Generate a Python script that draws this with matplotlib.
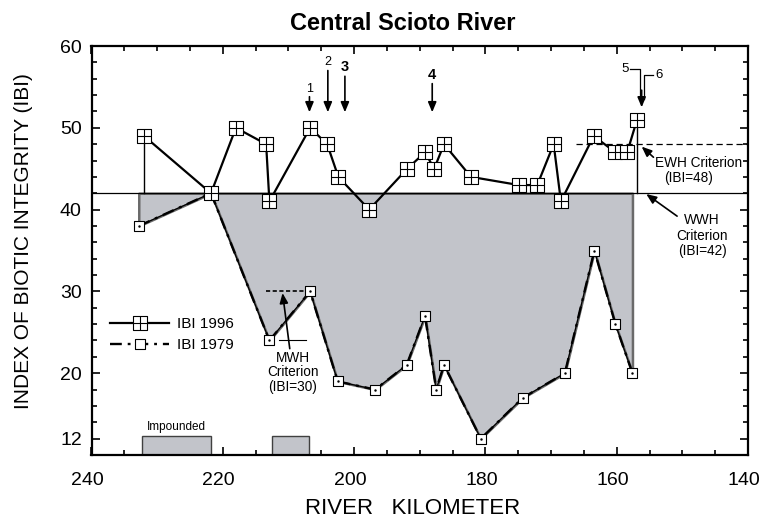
import matplotlib
matplotlib.use("Agg")
import matplotlib.pyplot as plt
import matplotlib.transforms as mtransforms
from matplotlib.path import Path
from matplotlib.ticker import MultipleLocator, FixedLocator

plt.rcParams['font.family'] = ['Liberation Sans', 'DejaVu Sans']

# River kilometer and IBI scores for each survey year
km_1996 = [232.0, 221.8, 218.0, 213.4, 212.9, 206.7, 204.1, 202.4, 197.7, 191.9, 189.2,
           187.8, 186.3, 182.2, 174.9, 172.1, 169.6, 168.5, 163.5, 160.2, 158.4, 156.9]
ibi_1996 = [49, 42, 50, 48, 41, 50, 48, 44, 40, 45, 47,
            45, 48, 44, 43, 43, 48, 41, 49, 47, 47, 51]

km_1979 = [232.8, 221.8, 212.9, 206.7, 202.5, 196.8, 192.0, 189.2, 187.5, 186.3, 180.7,
           174.3, 167.9, 163.4, 160.2, 157.6]
ibi_1979 = [38, 42, 24, 30, 19, 18, 21, 27, 18, 21, 12,
            17, 20, 35, 26, 20]

# Aquatic life use criteria
wwh_ibi = 42
ewh_ibi = 48
mwh_ibi = 30

# Impounded reaches (upstream km, downstream km)
impounded = [(232.3, 221.8), (212.5, 206.8)]

# Numbered point-source locations
sites = ["1", "2", "3", "4"]
site_km = [206.8, 204.0, 201.4, 188.1]

x_ticks = [240, 220, 200, 180, 160, 140]
y_ticks = [12, 20, 30, 40, 50, 60]

fig = plt.figure(figsize=(7.61, 5.27), dpi=100)
ax = fig.add_axes([91.5 / 761, 1 - 455 / 527, (748 - 91.5) / 761, (455 - 46) / 527])
ax.set_xlim(240, 140)
ax.set_ylim(10, 60)

# Markers: square with cross, and plain square with a centre dot
cross_sq = Path([(-1, -1), (1, -1), (1, 1), (-1, 1), (-1, -1), (0, -1), (0, 1), (-1, 0), (1, 0)],
                [Path.MOVETO, Path.LINETO, Path.LINETO, Path.LINETO, Path.CLOSEPOLY,
                 Path.MOVETO, Path.LINETO, Path.MOVETO, Path.LINETO])
plain_sq = Path([(-1, -1), (1, -1), (1, 1), (-1, 1), (-1, -1)],
                [Path.MOVETO, Path.LINETO, Path.LINETO, Path.LINETO, Path.CLOSEPOLY])

# Shaded departure of 1979 scores below the WWH criterion
ax.fill_between(km_1979, ibi_1979, wwh_ibi, facecolor='#c2c4ca', edgecolor='#6a6a6a',
                linewidth=1.8, zorder=1)
ax.axhline(wwh_ibi, color='black', linewidth=0.9, zorder=2)

# 1996 closing drops to the WWH line
ax.plot([km_1996[0], km_1996[0]], [wwh_ibi, ibi_1996[0]], color='black', lw=1.0, zorder=2)
ax.plot([km_1996[-1], km_1996[-1]], [wwh_ibi, ibi_1996[-1]], color='black', lw=1.0, zorder=2)

# 1979 series
ax.plot(km_1979, ibi_1979, color='black', lw=0.9, zorder=3)
l79, = ax.plot(km_1979, ibi_1979, color='black', lw=1.7, linestyle=(0, (5, 2.5, 1.2, 2.5)),
               marker=plain_sq, markersize=7.8, markerfacecolor='white',
               markeredgecolor='black', markeredgewidth=0.8, zorder=4, label='IBI 1979')
ax.plot(km_1979, ibi_1979, linestyle='none', marker='.', markersize=1.5, color='black', zorder=5)

# 1996 series
l96, = ax.plot(km_1996, ibi_1996, color='black', lw=1.6, marker=cross_sq, markersize=10,
               markerfacecolor='white', markeredgecolor='black', markeredgewidth=0.8,
               zorder=6, label='IBI 1996')

# Impounded reaches along the bottom
for up, down in impounded:
    ax.bar((up + down) / 2, 12.3 - 10, width=up - down, bottom=10, color='#c2c4ca',
           edgecolor='#404040', linewidth=1.0, zorder=2)
ax.text(227.0, 12.7, "Impounded", ha='center', va='bottom', fontsize=8.5)

# Criterion references
ax.plot([166.2, 140], [ewh_ibi, ewh_ibi], color='black', lw=0.9, linestyle=(0, (5, 3)), zorder=2)
ax.plot([213.4, 207.3], [mwh_ibi, mwh_ibi], color='black', lw=1.2, linestyle=(0, (2.5, 1.5)), zorder=2)
ax.plot([211.4, 207.4], [24.1, 24.1], color='black', lw=0.8, zorder=2)

arrow_kw = dict(arrowstyle='-|>,head_length=0.6,head_width=0.25', color='black', lw=1.2,
                shrinkA=0, shrinkB=0)

ax.annotate("", xy=(156.2, 47.7), xytext=(154.4, 46.4), arrowprops=arrow_kw, zorder=7)
ax.text(147.6, 45.7, "EWH Criterion", ha='center', va='center', fontsize=9.8)
ax.text(149.0, 43.9, "(IBI=48)", ha='center', va='center', fontsize=9.8)

ax.annotate("", xy=(155.5, 41.9), xytext=(150.8, 39.2), arrowprops=arrow_kw, zorder=7)
ax.text(147.0, 38.7, "WWH", ha='center', va='center', fontsize=9.8)
ax.text(147.0, 36.8, "Criterion", ha='center', va='center', fontsize=9.8)
ax.text(147.0, 34.9, "(IBI=42)", ha='center', va='center', fontsize=9.8)

ax.annotate("", xy=(210.9, 29.8), xytext=(209.8, 23.0), arrowprops=arrow_kw, zorder=7)
ax.text(209.3, 21.9, "MWH", ha='center', va='center', fontsize=9.8)
ax.text(209.3, 20.1, "Criterion", ha='center', va='center', fontsize=9.8)
ax.text(209.3, 18.3, "(IBI=30)", ha='center', va='center', fontsize=9.8)

# Numbered sites
site_top = [53.8, 57.0, 56.3, 55.4]
site_lbl = [54.7, 58.0, 57.4, 56.5]
bold = [False, False, True, True]
for s, x, yt, yl, b in zip(sites, site_km, site_top, site_lbl, bold):
    ax.annotate("", xy=(x, 51.9), xytext=(x, yt), arrowprops=arrow_kw, zorder=7)
    ax.text(x, yl, s, ha='center', va='center',
            fontsize=10.5 if b else 9, fontweight='bold' if b else 'normal')

# Sites 5 and 6 share one arrow
ax.text(158.7, 57.2, "5", ha='center', va='center', fontsize=9.5)
ax.text(153.6, 56.5, "6", ha='center', va='center', fontsize=9.5)
ax.plot([157.9, 156.5, 156.5], [57.2, 57.2, 53.5], color='black', lw=0.9, zorder=7)
ax.plot([154.4, 155.9, 155.9], [56.5, 56.5, 53.5], color='black', lw=0.9, zorder=7)
ax.annotate("", xy=(156.2, 52.5), xytext=(156.2, 54.6), arrowprops=arrow_kw, zorder=7)

# Legend
leg = ax.legend(handles=[l96, l79], loc='center left', bbox_to_anchor=(0.028, 0.294),
                frameon=False, fontsize=11, handlelength=3.9, handletextpad=0.5,
                labelspacing=0.45, borderpad=0, borderaxespad=0, numpoints=1)

# Axes, ticks and labels
for sp in ax.spines.values():
    sp.set_linewidth(1.6)
ax.xaxis.set_major_locator(FixedLocator(x_ticks))
ax.xaxis.set_minor_locator(MultipleLocator(5))
ax.yaxis.set_major_locator(FixedLocator(y_ticks))
ax.yaxis.set_minor_locator(MultipleLocator(2))
ax.tick_params(which='both', direction='in', top=True, right=True, width=1.2)
ax.tick_params(which='major', length=6, labelsize=14)
ax.tick_params(which='minor', length=3.5)
ax.tick_params(axis='y', which='major', pad=7)
ax.tick_params(axis='x', which='major', pad=12)

shift = mtransforms.ScaledTranslation(-4 / 100, 0, fig.dpi_scale_trans)
for lbl in ax.get_xticklabels():
    lbl.set_transform(lbl.get_transform() + shift)

fig.text(403 / 761, 1 - 23 / 527, "Central Scioto River", ha='center', va='center',
         fontsize=17, fontweight='bold')
fig.text(413 / 761, 1 - 509 / 527, "RIVER   KILOMETER", ha='center', va='center', fontsize=16)
fig.text(24 / 761, 1 - 241 / 527, "INDEX OF BIOTIC INTEGRITY (IBI)", ha='center', va='center',
         rotation=90, fontsize=15)

fig.savefig("out.png", dpi=100)
